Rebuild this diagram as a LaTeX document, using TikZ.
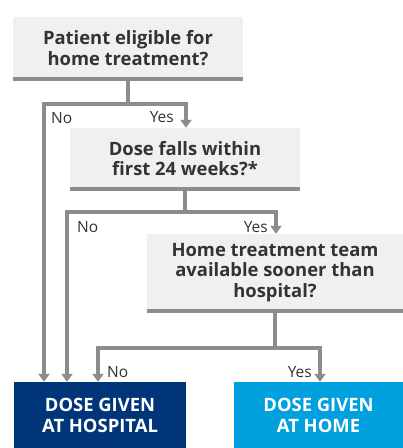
\documentclass[tikz,border=0pt]{standalone}
\usepackage{fontspec}
\setmainfont{Open Sans}
\usepackage{xcolor}
\definecolor{lineGray}{HTML}{8C8C8C}
\definecolor{boxGray}{HTML}{F0F0F0}
\definecolor{textGray}{HTML}{333333}
\definecolor{hospBlue}{HTML}{00357A}
\definecolor{homeBlue}{HTML}{00A0DF}
\usetikzlibrary{arrows.meta}

\begin{document}
\begin{tikzpicture}[x=1pt,y=-1pt,
  qbox/.style={fill=boxGray, text=textGray, align=center, inner sep=0pt,
    font=\fontsize{18.4}{20.5}\selectfont\bfseries},
  endbox/.style={text=white, align=center, inner sep=0pt,
    minimum width=172pt, minimum height=66pt,
    font=\fontsize{18.4}{21}\selectfont\bfseries},
  conn/.style={draw=lineGray, line width=4pt},
  arr/.style={conn, -{Triangle[width=11pt,length=8pt]}},
  bar/.style={draw=lineGray, line width=4pt},
  lbl/.style={text=textGray, inner sep=0pt, font=\fontsize{15.5}{17}\selectfont}]
  \useasboundingbox (0,0) rectangle (403,448);
  % question boxes
  \node[qbox, minimum width=230pt, minimum height=62pt] (q1) at (128,48)
    {Patient eligible for\\home treatment?};
  \node[qbox, minimum width=230pt, minimum height=61pt] (q2) at (185,158.5)
    {Dose falls within\\first 24 weeks?*};
  \node[qbox, minimum width=256pt, minimum height=77pt] (q3) at (275,272.5)
    {Home treatment team\\available sooner than\\hospital?};
  \draw[bar] (q1.south west) -- (q1.south east);
  \draw[bar] (q2.south west) -- (q2.south east);
  \draw[bar] (q3.south west) -- (q3.south east);
  % outcome boxes
  \node[endbox, fill=hospBlue] (hosp) at (100,415) {DOSE GIVEN\\AT HOSPITAL};
  \node[endbox, fill=homeBlue, minimum width=169pt] (home) at (318.5,415)
    {DOSE GIVEN\\AT HOME};
  % junctions
  \coordinate (j1) at (128,104);
  \coordinate (j2) at (185,212);
  \coordinate (j3) at (275,348);
  % connectors
  \draw[conn] (q1.south) -- (j1);
  \draw[arr] (j1) -| ([xshift=-56pt]hosp.north);
  \draw[arr] (j1) -| ([xshift=1pt]q2.north);
  \draw[conn] (q2.south) -- (j2);
  \draw[arr] (j2) -| ([xshift=-33pt]hosp.north);
  \draw[arr] (j2) -| ([xshift=1pt]q3.north);
  \draw[conn] (q3.south) -- (j3);
  \draw[arr] (j3) -| ([xshift=-2pt]hosp.north);
  \draw[arr] (j3) -| ([xshift=1.5pt]home.north);
  % answer labels
  \node[lbl, anchor=west] (no1) at (51,118) {No};
  \node[lbl, anchor=east] (yes1) at (174,117) {Yes};
  \node[lbl, anchor=west] (no2) at (77,227) {No};
  \node[lbl, anchor=east] (yes2) at (268,227) {Yes};
  \node[lbl, anchor=west] (no3) at (107,372) {No};
  \node[lbl, anchor=east] (yes3) at (312,372) {Yes};
\end{tikzpicture}
\end{document}
